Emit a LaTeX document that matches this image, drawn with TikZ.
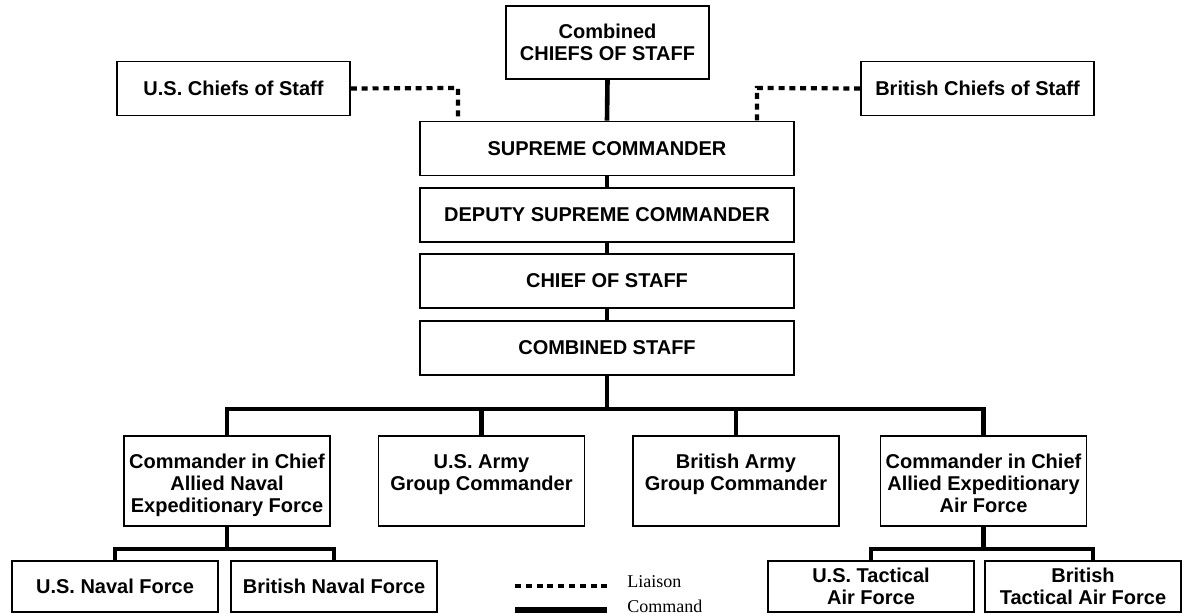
\documentclass[tikz,border=0pt]{standalone}
\usepackage{fontspec}
\setmainfont{Liberation Sans}
\newfontfamily\legendfont{Liberation Serif}
\begin{document}
\begin{tikzpicture}[x=0.5pt,y=-0.5pt,
  box/.style={draw,line width=0.9pt,inner sep=0pt,minimum height=27pt,minimum width=103pt,
    font=\fontsize{10}{11}\selectfont\bfseries,align=center},
  wide/.style={box,minimum width=187pt},
  tall/.style={box,minimum height=45pt},
  lbl/.style={inner sep=0pt,font=\fontsize{10}{11}\selectfont\bfseries,align=center,anchor=north},
  cmd/.style={line width=2.3pt},
  liaison/.style={line width=2.1pt,dash pattern=on 3pt off 2.4pt},
  legtext/.style={inner sep=0pt,anchor=base west,font=\legendfont\fontsize{9}{10}\selectfont}]
\useasboundingbox (0,0) rectangle (1183,614);
% top
\node[box,minimum width=101.5pt,minimum height=36.5pt] (ccs) at (607.5,42.5) {Combined\\CHIEFS OF STAFF};
\node[box,minimum width=116.5pt] (usc) at (233.5,88.5) {U.S. Chiefs of Staff};
\node[box,minimum width=116.5pt] (brc) at (977.5,88.5) {British Chiefs of Staff};
\node[wide] (sup) at (607,148.5) {SUPREME COMMANDER};
\node[wide] (dep) at (607,215) {DEPUTY SUPREME COMMANDER};
\node[wide] (cos) at (607,281) {CHIEF OF STAFF};
\node[wide] (cst) at (607,348) {COMBINED STAFF};
% level 4
\node[tall] (nav) at (227,481) {};
\node[lbl] (navt) at ([yshift=-9.5pt]nav.north) {Commander in Chief\\Allied Naval\\Expeditionary Force};
\node[tall] (army) at (481.5,481) {};
\node[lbl] (armyt) at ([yshift=-9.5pt]army.north) {U.S. Army\\Group Commander};
\node[tall] (barmy) at (736,481) {};
\node[lbl] (barmyt) at ([yshift=-9.5pt]barmy.north) {British Army\\Group Commander};
\node[tall] (air) at (983.5,481) {};
\node[lbl] (airt) at ([yshift=-9.5pt]air.north) {Commander in Chief\\Allied Expeditionary\\Air Force};
% bottom
\node[box,minimum height=25.5pt] (usn) at (115,586.5) {U.S. Naval Force};
\node[box,minimum height=25.5pt] (brn) at (334,586.5) {British Naval Force};
\node[box,minimum height=25.5pt] (ust) at (871,586.5) {U.S. Tactical\\Air Force};
\node[box,minimum height=25.5pt,minimum width=98pt] (brt) at (1083,586.5) {British\\Tactical Air Force};
% liaison
\coordinate (lj1) at (458,88);
\coordinate (lj2) at (757,88);
\draw[liaison] (usc.east) -- (lj1) -- (lj1 |- sup.north);
\draw[liaison] (brc.west) -- (lj2) -- (lj2 |- sup.north);
% command
\draw[cmd] (ccs.south) -- (sup.north);
\draw[cmd] (sup.south) -- (dep.north);
\draw[cmd] (dep.south) -- (cos.north);
\draw[cmd] (cos.south) -- (cst.north);
\coordinate (bus) at (607,409);
\draw[cmd] (cst.south) -- (bus);
\draw[cmd] (nav.north) |- (bus) -| (air.north);
\draw[cmd] (army.north) -- (army.north |- bus);
\draw[cmd] (barmy.north) -- (barmy.north |- bus);
\coordinate (navbus) at (227,549);
\draw[cmd] (nav.south) -- (navbus);
\draw[cmd] (usn.north) |- (navbus) -| (brn.north);
\coordinate (airbus) at (983.5,549);
\draw[cmd] (air.south) -- (airbus);
\draw[cmd] (ust.north) |- (airbus) -| ([xshift=5pt]brt.north);
% legend
\coordinate (l1a) at (515,586); \coordinate (l1b) at (607,586);
\coordinate (l2a) at (515,610); \coordinate (l2b) at (607,610);
\draw[liaison] (l1a) -- (l1b);
\draw[line width=2.8pt] (l2a) -- (l2b);
\node[legtext] (liaisont) at (627,587) {Liaison};
\node[legtext] (commandt) at (627,612) {Command};
\end{tikzpicture}
\end{document}
